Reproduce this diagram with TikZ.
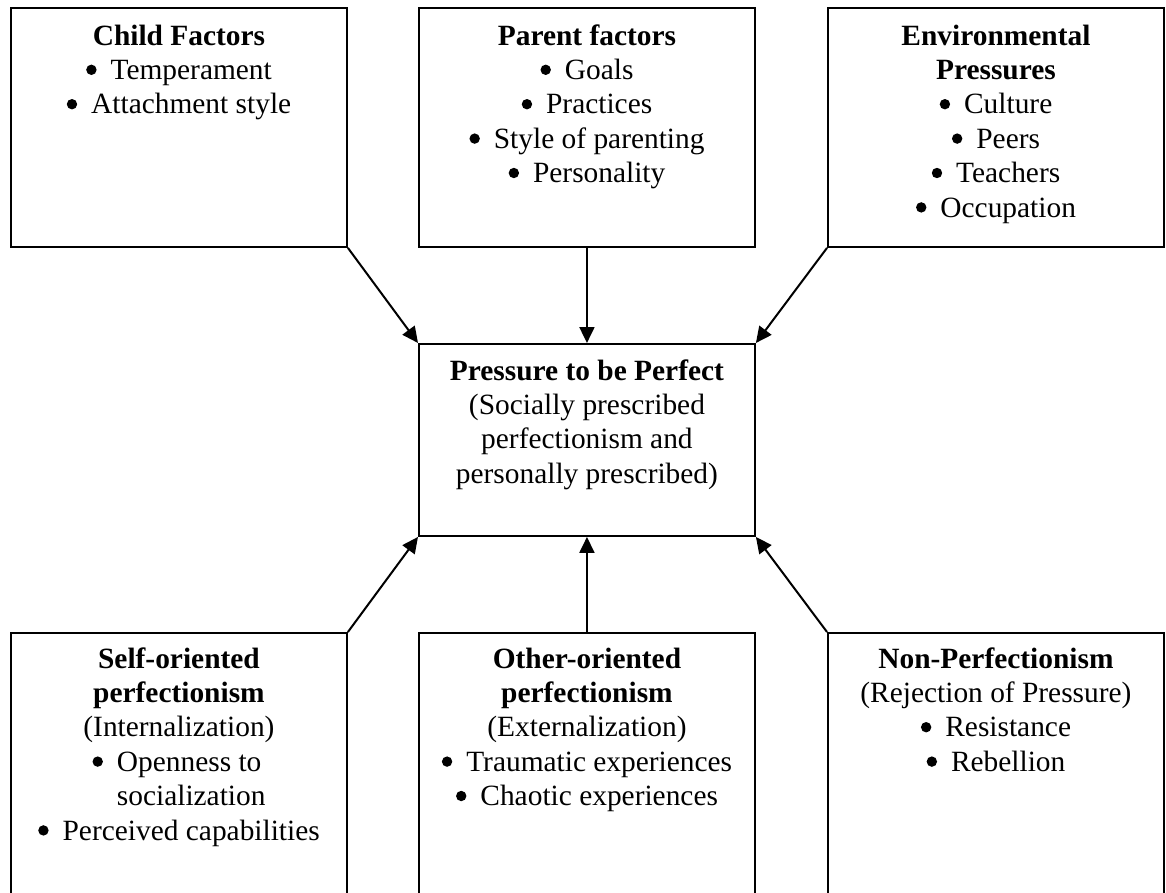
\documentclass[tikz,border=0pt]{standalone}
\usepackage{fontspec}
\setmainfont{Liberation Serif}
\usetikzlibrary{arrows.meta}
% centred stack of lines whose baseline is the first line
\newcommand\lines[1]{\begin{tabular}[t]{@{}c@{}}#1\end{tabular}}
% list bullet: a round dot followed by the gap before the item text
\newcommand\itm{\tikz[baseline=0pt,x=1pt,y=1pt]{\path (0,0) rectangle (24.5,1);
  \fill (5.3,9.6) circle (5.2);}}

\begin{document}
\begin{tikzpicture}[x=1pt,y=-1pt,
  box/.style={draw, line width=1.9pt, minimum width=336pt, anchor=north west, inner sep=0pt},
  txt/.style={anchor=base, inner sep=0pt, font=\fontsize{29.4}{34.4}\selectfont},
  link/.style={line width=2pt, -{Triangle[length=16pt,width=15pt]}}]
\useasboundingbox (0,0) rectangle (1166,892);
\clip (0,0) rectangle (1166,892);

% top row
\node[box, minimum height=239pt] (child)  at (10,7)  {};
\node[box, minimum height=239pt] (parent) at (418,7) {};
\node[box, minimum height=239pt] (env)    at (827,7) {};

% centre
\node[box, minimum height=192pt] (centre) at (418,343) {};

% bottom row (open below the page edge)
\node[box, minimum height=290pt] (self)  at (10,632)  {};
\node[box, minimum height=290pt] (other) at (418,632) {};
\node[box, minimum height=290pt] (non)   at (827,632) {};

% texts
\node[txt] (childtxt) at ([yshift=-38pt]child.north) {\lines{\textbf{Child Factors}\\\itm Temperament\\\itm Attachment style}};
\node[txt] (parenttxt) at ([yshift=-38pt]parent.north) {\lines{\textbf{Parent factors}\\\itm Goals\\\itm Practices\\\itm Style of parenting\\\itm Personality}};
\node[txt] (envtxt) at ([yshift=-38pt]env.north) {\lines{\textbf{Environmental}\\\textbf{Pressures}\\\itm Culture\\\itm Peers\\\itm Teachers\\\itm Occupation}};
\node[txt] (centretxt) at ([yshift=-37pt]centre.north) {\lines{\textbf{Pressure to be Perfect}\\(Socially prescribed\\perfectionism and\\personally prescribed)}};
\node[txt] (selftxt) at ([yshift=-36pt]self.north) {\lines{\textbf{Self-oriented}\\\textbf{perfectionism}\\(Internalization)\\\itm\begin{tabular}[t]{@{}l@{}}Openness to\\socialization\end{tabular}\\\itm Perceived capabilities}};
\node[txt] (othertxt) at ([yshift=-36pt]other.north) {\lines{\textbf{Other-oriented}\\\textbf{perfectionism}\\(Externalization)\\\itm Traumatic experiences\\\itm Chaotic experiences}};
\node[txt] (nontxt) at ([yshift=-36pt]non.north) {\lines{\textbf{Non-Perfectionism}\\(Rejection of Pressure)\\\itm Resistance\\\itm Rebellion}};

% arrows into the centre
\draw[link] (child.south east) -- (centre.north west);
\draw[link] (parent.south) -- (centre.north);
\draw[link] (env.south west) -- (centre.north east);
\draw[link] (self.north east) -- (centre.south west);
\draw[link] (other.north) -- (centre.south);
\draw[link] (non.north west) -- (centre.south east);
\end{tikzpicture}
\end{document}
